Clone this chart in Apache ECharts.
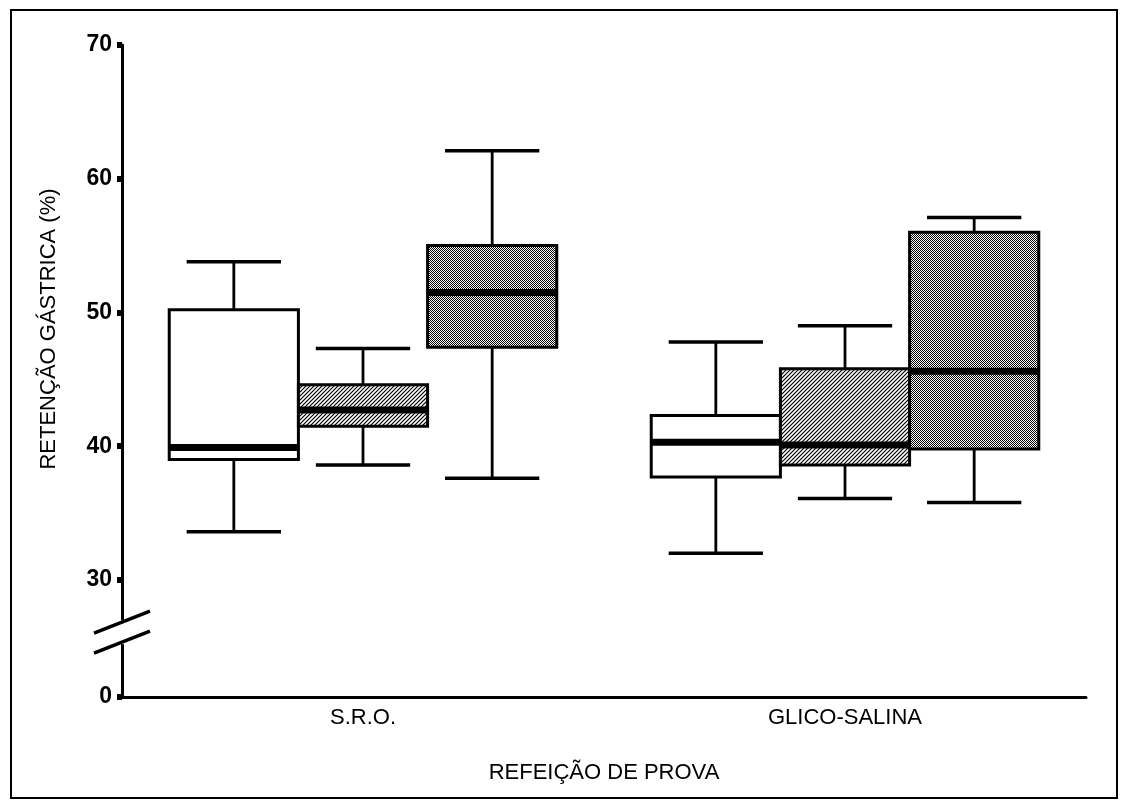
<!DOCTYPE html>
<html>
<head>
<meta charset="utf-8">
<script src="https://cdn.jsdelivr.net/npm/echarts@6/dist/echarts.min.js"></script>
<style>html,body{margin:0;padding:0;background:#fff}#c{width:1122px;height:802px}</style>
</head>
<body>
<div id="c"></div>
<script>
// ---- data ----
const categories = ['S.R.O.', 'GLICO-SALINA'];
// each row: [lower whisker, Q1, median, Q3, upper whisker]
const boxWhite   = [[33.6, 39.0, 39.9, 50.2, 53.8], [32.0, 37.7, 40.3, 42.3, 47.8]];
const boxHatched = [[38.6, 41.5, 42.7, 44.6, 47.3], [36.1, 38.6, 40.1, 45.8, 49.0]];
const boxDotted  = [[37.6, 47.4, 51.5, 55.0, 62.1], [35.8, 39.8, 45.6, 56.0, 57.1]];
const yTicks = [30, 40, 50, 60, 70];
const axisFloor = 21.25;      // bottom of the broken axis, labelled "0"
const breakValue = 26.1;      // where the axis break mark sits

// ---- fill patterns ----
function hatchCanvas() {
  const c = document.createElement('canvas'); c.width = 4; c.height = 4;
  const g = c.getContext('2d');
  g.fillStyle = '#fff'; g.fillRect(0, 0, 4, 4);
  g.strokeStyle = '#000'; g.lineWidth = 1.2;
  g.beginPath();
  g.moveTo(-1, 5); g.lineTo(5, -1);
  g.moveTo(-1, 1); g.lineTo(1, -1);
  g.moveTo(3, 5); g.lineTo(5, 3);
  g.stroke();
  return c;
}
function dotCanvas() {
  const c = document.createElement('canvas'); c.width = 2; c.height = 2;
  const g = c.getContext('2d');
  g.fillStyle = '#fff'; g.fillRect(0, 0, 2, 2);
  g.fillStyle = '#000'; g.fillRect(0, 0, 1, 1); g.fillRect(1, 1, 1, 1);
  return c;
}
const fills = ['#ffffff', { image: hatchCanvas(), repeat: 'repeat' }, { image: dotCanvas(), repeat: 'repeat' }];
const groups = [boxWhite, boxHatched, boxDotted];
const BOX_FRAC = 0.268;
const CAP_FRAC = 0.73;

function makeRenderItem(si) {
  return function (params, api) {
    const cat = api.value(0);
    const lo = api.value(1), q1 = api.value(2), med = api.value(3), q3 = api.value(4), hi = api.value(5);
    const band = api.size([1, 0])[0];
    const bw = band * BOX_FRAC;
    const cx = api.coord([cat, med])[0] + (si - 1) * bw;
    const y = v => api.coord([cat, v])[1];
    const cw = bw * CAP_FRAC;
    const ln = (x1, y1, x2, y2, w) => ({ type: 'line', shape: { x1, y1, x2, y2 }, style: { stroke: '#000', lineWidth: w } });
    return {
      type: 'group',
      children: [
        ln(cx, y(hi), cx, y(q3), 2.8),
        ln(cx, y(q1), cx, y(lo), 2.8),
        ln(cx - cw / 2, y(hi), cx + cw / 2, y(hi), 3.5),
        ln(cx - cw / 2, y(lo), cx + cw / 2, y(lo), 3.5),
        { type: 'rect', shape: { x: cx - bw / 2, y: y(q3), width: bw, height: y(q1) - y(q3) },
          style: { fill: fills[si], stroke: '#000', lineWidth: 3 } },
        ln(cx - bw / 2, y(med), cx + bw / 2, y(med), 7)
      ]
    };
  };
}

const series = groups.map((g, si) => ({
  type: 'custom',
  name: 'grupo ' + (si + 1),
  renderItem: makeRenderItem(si),
  encode: { x: 0, y: [1, 2, 3, 4, 5] },
  data: g.map((row, ci) => [ci].concat(row)),
  z: 5 + si
}));

const FONT = 'Liberation Sans, Arial, sans-serif';
const tickVals = [axisFloor].concat(yTicks);
const chart = echarts.init(document.getElementById('c'), null, { renderer: 'canvas' });
chart.setOption({
  animation: false,
  backgroundColor: '#fff',
  grid: { left: 122, right: 36, top: 45, bottom: 105 },
  xAxis: {
    type: 'category',
    data: categories,
    axisLine: { lineStyle: { color: '#000', width: 3 } },
    axisTick: { show: false },
    axisLabel: { color: '#000', fontSize: 22, fontFamily: FONT, margin: 10 },
    name: 'REFEIÇÃO DE PROVA',
    nameLocation: 'middle',
    nameGap: 65,
    nameTextStyle: { color: '#000', fontSize: 22, fontFamily: FONT }
  },
  yAxis: {
    type: 'value',
    min: axisFloor,
    max: 70,
    splitLine: { show: false },
    axisLine: { show: true, lineStyle: { color: '#000', width: 3 } },
    axisTick: { show: true, customValues: tickVals, length: 5, lineStyle: { color: '#000', width: 6 } },
    axisLabel: {
      customValues: tickVals, color: '#000', fontSize: 23, fontWeight: 'bold', margin: 10,
      fontFamily: FONT,
      formatter: v => (Math.abs(v - axisFloor) < 1e-6 ? '0' : String(v))
    },
    name: 'RETENÇÃO GÁSTRICA (%)',
    nameLocation: 'middle',
    nameGap: 62,
    nameTextStyle: { color: '#000', fontSize: 22, fontFamily: FONT, padding: [0, 0, 0, 84] }
  },
  series: series
});

// axis break mark and outer frame (decoration)
const ax = chart.convertToPixel({ xAxisIndex: 0 }, 0) - (chart.convertToPixel({ xAxisIndex: 0 }, 1) - chart.convertToPixel({ xAxisIndex: 0 }, 0)) / 2;
const by = chart.convertToPixel({ yAxisIndex: 0 }, breakValue);
const dx = 28, dy = 11, gap = 10;
chart.setOption({
  graphic: [
    { type: 'rect', shape: { x: 11, y: 10, width: 1106, height: 788 }, style: { fill: 'none', stroke: '#000', lineWidth: 2 }, silent: true, z: 100 },
    { type: 'rect', shape: { x: ax - 5, y: by - gap - 2, width: 10, height: 2 * gap + 4 }, style: { fill: '#fff' }, z: 100 },
    { type: 'line', shape: { x1: ax - dx, y1: by - gap + dy, x2: ax + dx, y2: by - gap - dy }, style: { stroke: '#000', lineWidth: 3.5 }, z: 101 },
    { type: 'line', shape: { x1: ax - dx, y1: by + gap + dy, x2: ax + dx, y2: by + gap - dy }, style: { stroke: '#000', lineWidth: 3.5 }, z: 101 }
  ]
});
</script>
</body>
</html>
